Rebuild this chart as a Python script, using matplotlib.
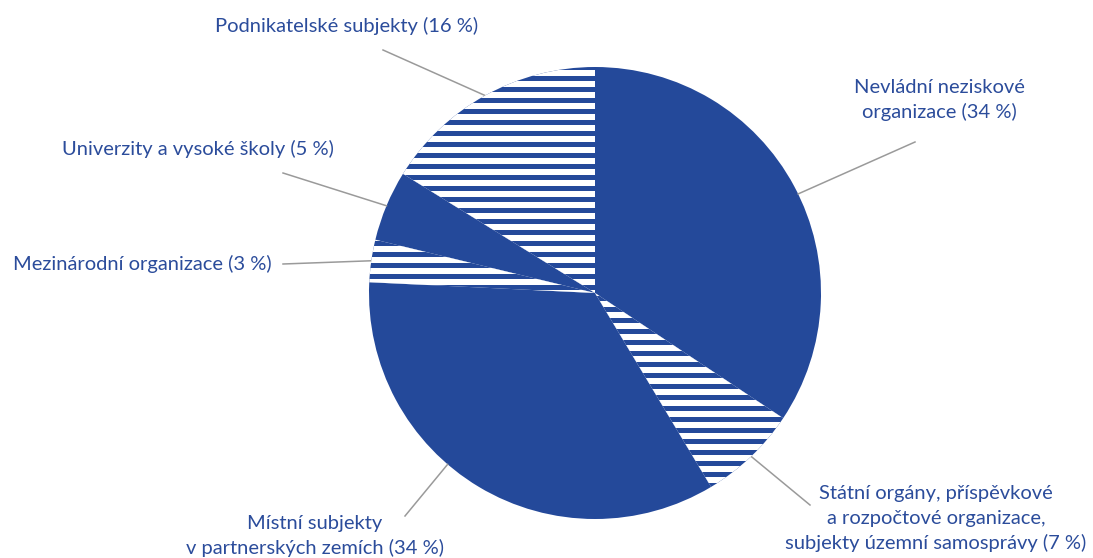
import numpy as np
import matplotlib
matplotlib.use("Agg")
import matplotlib.pyplot as plt
from matplotlib.patches import Rectangle

# data (clockwise from 12 o'clock)
labels = [
    "Nevládní neziskové\norganizace (34 %)",
    "Státní orgány, příspěvkové\na rozpočtové organizace,\nsubjekty územní samosprávy (7 %)",
    "Místní subjekty\nv partnerských zemích (34 %)",
    "Mezinárodní organizace (3 %)",
    "Univerzity a vysoké školy (5 %)",
    "Podnikatelské subjekty (16 %)",
]
shares = [34, 7, 34, 3, 5, 16]
striped = [False, True, False, True, False, True]

BLUE = "#24499a"
TEXT = "#2b4c9b"
GREY = "#9a9a9a"

# layout in pixels (reference image coordinates)
W, H = 1093, 558
CX, CY, R = 595, 293, 226
# label anchor (x center / right, baseline of first line), leader outer point, leader angle on the rim
label_pos = [(939, 93, "center"), (936, 499, "center"), (315, 529, "center"),
             (272, 270, "right"), (198, 155, "center"), (347, 32, "center")]
leader_out = [(915, 142), (810, 505), (405, 516), (283, 264), (283, 173), (383, 50)]
leader_ang = [26, -46.3, -130.7, 171.8, 157.3, 119.1]


def to_data(px, py):
    return (px - CX) / R, (CY - py) / R


plt.rcParams["font.family"] = ["Lato", "DejaVu Sans"]
fig = plt.figure(figsize=(W / 100, H / 100), dpi=100)
ax = fig.add_axes([0, 0, 1, 1])

wedges, _ = ax.pie(shares, startangle=90, counterclock=False, radius=1,
                   colors=[BLUE] * len(shares),
                   wedgeprops=dict(linewidth=0, edgecolor="none"))

ax.set_aspect("auto")
ax.set_xlim(-CX / R, (W - CX) / R)
ax.set_ylim((CY - H) / R, CY / R)
ax.axis("off")

# white horizontal stripes in the hatched slices
period = 11 / R
band = 6.7 / R
for w, s in zip(wedges, striped):
    if not s:
        continue
    for k in range(-25, 26):
        rect = Rectangle((-1.1, k * period - band / 2), 2.2, band,
                         facecolor="white", edgecolor="none", zorder=3)
        ax.add_patch(rect)
        rect.set_clip_path(w)

# leader lines and labels
for lab, (lx, ly, ha), (ox, oy), ang in zip(labels, label_pos, leader_out, leader_ang):
    a = np.deg2rad(ang)
    x0, y0 = np.cos(a), np.sin(a)
    x1, y1 = to_data(ox, oy)
    ax.plot([x0, x1], [y0, y1], color=GREY, lw=1.1, zorder=2)
    for i, line in enumerate(lab.split("\n")):
        tx, ty = to_data(lx, ly + i * 25)
        ax.text(tx, ty, line, ha=ha, va="baseline", fontsize=14.5, color=TEXT)

fig.savefig("out.png", dpi=100)
